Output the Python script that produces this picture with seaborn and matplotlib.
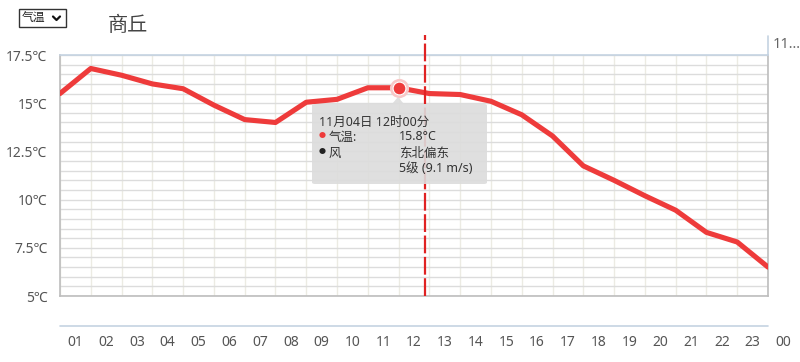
import matplotlib
matplotlib.use("Agg")
import matplotlib.pyplot as plt
import matplotlib.transforms as mtransforms
from matplotlib.patches import FancyBboxPatch, Rectangle, Polygon
from matplotlib.lines import Line2D
import seaborn as sns
import pandas as pd

# ---------------- data ----------------
hour_labels = ['01', '02', '03', '04', '05', '06', '07', '08', '09', '10', '11', '12',
               '13', '14', '15', '16', '17', '18', '19', '20', '21', '22', '23', '00']
temps = [15.5, 16.8, 16.45, 16.0, 15.75, 14.9, 14.15, 14.0, 15.05, 15.2, 15.8, 15.8,
         15.5, 15.45, 15.1, 14.4, 13.3, 11.75, 11.0, 10.2, 9.45, 8.3, 7.8, 6.5]
y_ticks = [5, 7.5, 10, 12.5, 15, 17.5]
y_tick_labels = ['5℃', '7.5℃', '10℃', '12.5℃', '15℃', '17.5℃']
title = '商丘'
select_label = '气温'
highlight_idx = 11
now_pos = 11.86
tooltip_time = '11月04日 12时00分'
tooltip_temp_label = '气温:'
tooltip_temp = '15.8°C'
tooltip_wind_label = '风'
tooltip_wind_dir = '东北偏东'
tooltip_wind_speed = '5级 (9.1 m/s)'

df = pd.DataFrame({'idx': list(range(len(temps))), 'temp': temps})

sns.set_theme(style='white')
plt.rcParams['font.family'] = ['Noto Sans', 'Noto Sans CJK SC', 'DejaVu Sans']

W, H = 800, 362
fig = plt.figure(figsize=(W / 100, H / 100), dpi=100)
ax = fig.add_axes([60 / W, 1 - 296 / H, (768 - 60) / W, (296 - 55) / H])

def fx(px):
    return px / W

def fy(py):
    return 1 - py / H

line_color = '#ee3b3b'
sns.lineplot(data=df, x='idx', y='temp', ax=ax, color=line_color, linewidth=3.7,
             solid_joinstyle='round', solid_capstyle='round', zorder=5)

ax.set_xlim(0, 23)
ax.set_ylim(5, 17.5)
ax.set_xlabel('')
ax.set_ylabel('')

# grid
ax.set_xticks(range(0, 24))
ax.set_xticklabels([])
ax.set_yticks(y_ticks)
ax.set_yticklabels(y_tick_labels, fontsize=10, color='#555555')
ax.set_yticks([5 + 0.5 * i for i in range(26)], minor=True)
ax.tick_params(axis='both', which='both', length=0)
ax.tick_params(axis='y', pad=9)
ax.grid(True, axis='x', which='major', color='#ecebe3', linewidth=1)
ax.grid(True, axis='y', which='both', color='#dcdcdc', linewidth=1)
ax.set_axisbelow(True)

for s in ['left', 'bottom', 'right']:
    ax.spines[s].set_color('#bdbdbd')
    ax.spines[s].set_linewidth(1.2)
ax.spines['top'].set_color('#c5d3e2')
ax.spines['top'].set_linewidth(1.2)

# x labels between gridlines (last one beyond plot)
xlab_tr = mtransforms.blended_transform_factory(ax.transData, fig.transFigure)
for i, lab in enumerate(hour_labels):
    ax.text(i + 0.5, fy(342), lab, transform=xlab_tr,
            ha='center', va='center', fontsize=10, color='#555555', clip_on=False)

# extra decorative lines (second panel borders)
fig.add_artist(Line2D([fx(60), fx(768)], [fy(326), fy(326)], color='#c5d3e2', lw=1.2))
fig.add_artist(Line2D([fx(768), fx(768)], [fy(36), fy(55)], color='#c5d3e2', lw=1.2))
fig.text(fx(773), fy(45), '11...', fontsize=10.5, color='#666666', va='center', ha='left')

# now line
ax.plot([now_pos, now_pos], [5, 17.5 + 20 / 19.3], color='#e02222', lw=1.6,
        linestyle=(0, (8, 1.6)), clip_on=False, zorder=6)

# highlighted point
hx, hy = highlight_idx, temps[highlight_idx]
ax.scatter([hx], [hy], s=190, color='#f8c8c8', zorder=7, linewidths=0)
ax.scatter([hx], [hy], s=85, color=line_color, zorder=8, edgecolors='white', linewidths=0.8)

# tooltip
bx0, bx1, by0, by1 = 312, 487, 104, 184
tip = FancyBboxPatch((fx(bx0), fy(by1)), fx(bx1 - bx0), (by1 - by0) / H,
                     boxstyle='round,pad=0,rounding_size=0.004', transform=fig.transFigure,
                     facecolor='#dcdcdc', edgecolor='none', alpha=0.9, zorder=9)
fig.add_artist(tip)
tri = Polygon([[fx(392), fy(104)], [fx(398), fy(97)], [fx(404), fy(104)]],
              closed=True, transform=fig.transFigure, facecolor='#dcdcdc',
              edgecolor='none', alpha=0.9, zorder=9)
fig.add_artist(tri)
tfs = 9
tc = '#333333'
fig.text(fx(319), fy(122), tooltip_time, fontsize=tfs, color=tc, va='center', ha='left', zorder=10)
fig.text(fx(319), fy(137), '●', fontsize=5, color='#ee3b3b', va='center', ha='left', zorder=10)
fig.text(fx(329), fy(137), tooltip_temp_label, fontsize=tfs, color=tc, va='center', ha='left', zorder=10)
fig.text(fx(399), fy(137), tooltip_temp, fontsize=tfs, color=tc, va='center', ha='left', zorder=10)
fig.text(fx(319), fy(153), '●', fontsize=5, color='#222222', va='center', ha='left', zorder=10)
fig.text(fx(329), fy(153), tooltip_wind_label, fontsize=tfs, color=tc, va='center', ha='left', zorder=10)
fig.text(fx(399), fy(153), tooltip_wind_dir, fontsize=tfs, color=tc, va='center', ha='left', zorder=10)
fig.text(fx(399), fy(169), tooltip_wind_speed, fontsize=tfs, color=tc, va='center', ha='left', zorder=10)

# title
fig.text(fx(108), fy(26), title, fontsize=14.5, color='#444444', va='center', ha='left')

# select box
fig.add_artist(Rectangle((fx(19), fy(27)), fx(47), 18 / H, transform=fig.transFigure,
                         facecolor='white', edgecolor='#333333', lw=1))
fig.text(fx(22), fy(18), select_label, fontsize=8.5, color='#222222', va='center', ha='left')
fig.add_artist(Line2D([fx(53), fx(56.5), fx(60)], [fy(16.5), fy(20), fy(16.5)],
                      color='#111111', lw=1.6, solid_capstyle='round'))

fig.savefig('out.png', dpi=100)
